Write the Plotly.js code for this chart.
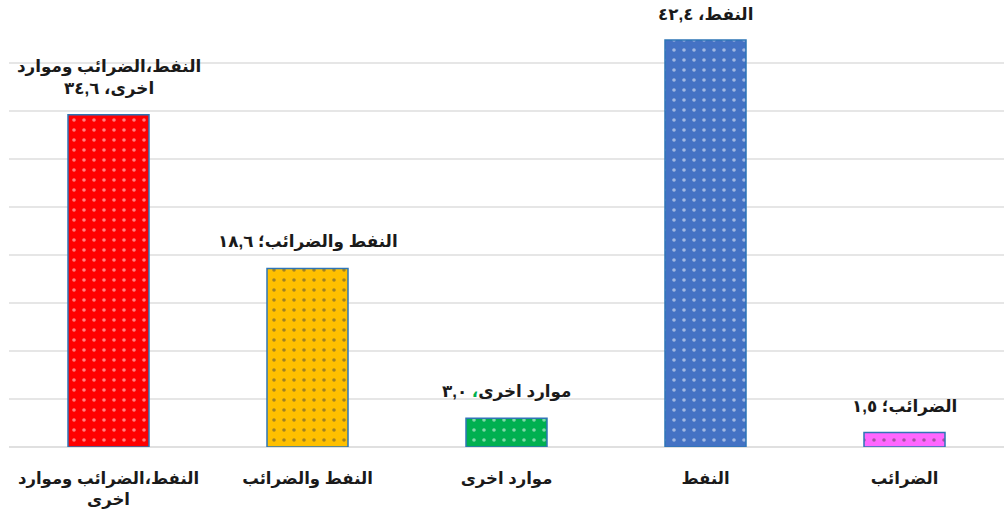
<!DOCTYPE html>
<html><head><meta charset="utf-8">
<script src="https://cdn.plot.ly/plotly-3.0.1.min.js"></script>
<style>body{margin:0;background:#fff}#chart{width:1004px;height:520px}</style>
</head><body><div id="chart"></div>
<script>
const categories = ["النفط،الضرائب وموارد<br>اخرى", "النفط والضرائب", "موارد اخرى", "النفط", "الضرائب"];
const values = [34.6, 18.6, 3.0, 42.4, 1.5];
const valueLabels = ["النفط،الضرائب وموارد<br>اخرى، ٣٤,٦", "النفط والضرائب؛ ١٨,٦", "موارد اخرى<span style='color:#00B050'>،</span> ٣,٠", "النفط، ٤٢,٤", "الضرائب؛ ١,٥"];
const colors = ["#FF0000", "#FFC000", "#00B050", "#4472C4", "#FF66FF"];

const trace = {
  type: "bar",
  x: categories,
  y: values,
  marker: {
    color: colors,
    line: {color: "#2E75B6", width: 1.5},
    pattern: {shape: ".", fgcolor: "#ffffff", bgcolor: colors, size: 10, solidity: 0.1, fillmode: "overlay"}
  },
  hoverinfo: "none"
};

const annotations = categories.map((c, i) => ({
  x: c, y: values[i], xref: "x", yref: "y",
  text: valueLabels[i], showarrow: false,
  yanchor: "bottom", yshift: 14,
  font: {family: "Arial, 'Liberation Sans', 'DejaVu Sans', sans-serif", size: 16.8, color: "#1a1a1a", weight: "bold"}
}));

const layout = {
  width: 1004, height: 520,
  margin: {l: 9, r: 0, t: 15, b: 73},
  paper_bgcolor: "#ffffff", plot_bgcolor: "#ffffff",
  showlegend: false,
  bargap: 0.593,
  xaxis: {
    showgrid: false, zeroline: false, showline: false, ticks: "",
    tickfont: {family: "Arial, 'Liberation Sans', 'DejaVu Sans', sans-serif", size: 16.5, color: "#1a1a1a", weight: "bold"},
    ticklabelstandoff: 19
  },
  yaxis: {
    range: [0, 45], dtick: 5, showticklabels: false,
    showgrid: true, gridcolor: "#e6e6e6", gridwidth: 1.5,
    zeroline: true, zerolinecolor: "#e0e0e0", zerolinewidth: 2,
    showline: false, ticks: ""
  },
  annotations: annotations
};

Plotly.newPlot("chart", [trace], layout, {displayModeBar: false, staticPlot: true});
</script>
</body></html>
